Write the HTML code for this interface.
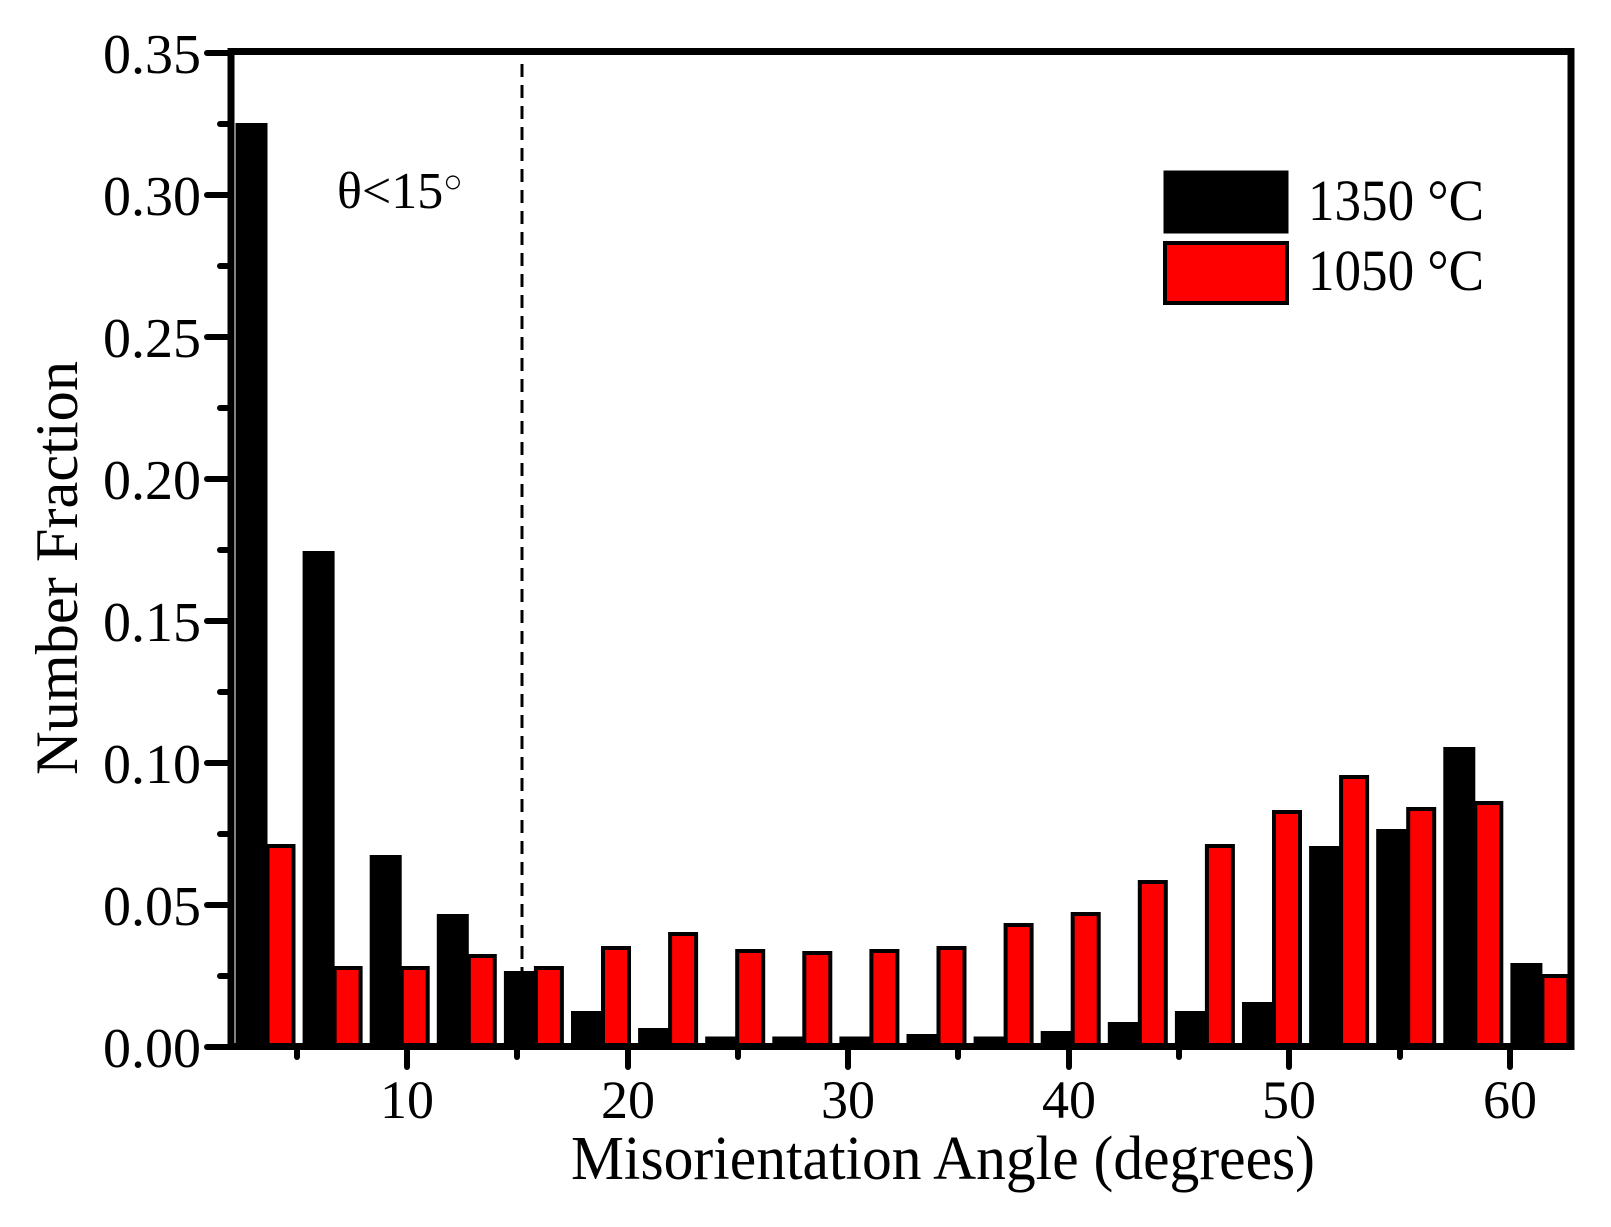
<!DOCTYPE html>
<html><head><meta charset="utf-8"><style>html,body{margin:0;padding:0;background:#fff}svg{display:block}</style></head>
<body>
<svg width="1611" height="1227" viewBox="0 0 1611 1227" xmlns="http://www.w3.org/2000/svg" font-family="'Liberation Serif', serif">
<g stroke="#000" stroke-width="4" fill="#000">
<rect x="237.5" y="125" width="28" height="922"/>
<rect x="304.6" y="553" width="28" height="494"/>
<rect x="371.7" y="857" width="28" height="190"/>
<rect x="438.8" y="916" width="28" height="131"/>
<rect x="505.9" y="973" width="28" height="74"/>
<rect x="573.0" y="1013" width="28" height="34"/>
<rect x="640.1" y="1030" width="28" height="17"/>
<rect x="707.2" y="1038.5" width="28" height="8.5"/>
<rect x="774.3" y="1038.5" width="28" height="8.5"/>
<rect x="841.4" y="1038.5" width="28" height="8.5"/>
<rect x="908.5" y="1036" width="28" height="11"/>
<rect x="975.6" y="1038.5" width="28" height="8.5"/>
<rect x="1042.7" y="1033" width="28" height="14"/>
<rect x="1109.8" y="1024" width="28" height="23"/>
<rect x="1176.9" y="1013" width="28" height="34"/>
<rect x="1244.0" y="1004" width="28" height="43"/>
<rect x="1311.1" y="848" width="28" height="199"/>
<rect x="1378.2" y="831" width="28" height="216"/>
<rect x="1445.3" y="749" width="28" height="298"/>
<rect x="1512.4" y="965" width="28" height="82"/>
</g>
<g stroke="#000" stroke-width="4" fill="#f00">
<rect x="267.5" y="846" width="26" height="201"/>
<rect x="334.6" y="968" width="26" height="79"/>
<rect x="401.7" y="968" width="26" height="79"/>
<rect x="468.8" y="956" width="26" height="91"/>
<rect x="535.9" y="968" width="26" height="79"/>
<rect x="603.0" y="948" width="26" height="99"/>
<rect x="670.1" y="934" width="26" height="113"/>
<rect x="737.2" y="951" width="26" height="96"/>
<rect x="804.3" y="953" width="26" height="94"/>
<rect x="871.4" y="951" width="26" height="96"/>
<rect x="938.5" y="948" width="26" height="99"/>
<rect x="1005.6" y="925" width="26" height="122"/>
<rect x="1072.7" y="914" width="26" height="133"/>
<rect x="1139.8" y="882" width="26" height="165"/>
<rect x="1206.9" y="846" width="26" height="201"/>
<rect x="1274.0" y="812" width="26" height="235"/>
<rect x="1341.1" y="777" width="26" height="270"/>
<rect x="1408.2" y="809" width="26" height="238"/>
<rect x="1475.3" y="803" width="26" height="244"/>
<rect x="1542.4" y="976" width="26" height="71"/>
</g>
<line x1="522" y1="64" x2="522" y2="1047" stroke="#000" stroke-width="3" stroke-dasharray="13,8"/>
<rect x="231" y="51.5" width="1340" height="995" fill="none" stroke="#000" stroke-width="7"/>
<g stroke="#000" stroke-width="6" stroke-linecap="round">
<line x1="207" y1="53" x2="231" y2="53"/><line x1="207" y1="195" x2="231" y2="195"/><line x1="207" y1="337" x2="231" y2="337"/><line x1="207" y1="479" x2="231" y2="479"/><line x1="207" y1="621" x2="231" y2="621"/><line x1="207" y1="763" x2="231" y2="763"/><line x1="207" y1="905" x2="231" y2="905"/><line x1="207" y1="1047" x2="231" y2="1047"/>
<line x1="220" y1="124" x2="231" y2="124"/><line x1="220" y1="266" x2="231" y2="266"/><line x1="220" y1="408" x2="231" y2="408"/><line x1="220" y1="550" x2="231" y2="550"/><line x1="220" y1="692" x2="231" y2="692"/><line x1="220" y1="834" x2="231" y2="834"/><line x1="220" y1="976" x2="231" y2="976"/>
<line x1="407" y1="1047" x2="407" y2="1067"/><line x1="628" y1="1047" x2="628" y2="1067"/><line x1="848" y1="1047" x2="848" y2="1067"/><line x1="1069" y1="1047" x2="1069" y2="1067"/><line x1="1289" y1="1047" x2="1289" y2="1067"/><line x1="1510" y1="1047" x2="1510" y2="1067"/>
<line x1="297" y1="1047" x2="297" y2="1057"/><line x1="517" y1="1047" x2="517" y2="1057"/><line x1="738" y1="1047" x2="738" y2="1057"/><line x1="958" y1="1047" x2="958" y2="1057"/><line x1="1179" y1="1047" x2="1179" y2="1057"/><line x1="1400" y1="1047" x2="1400" y2="1057"/>
</g>
<g font-size="56" text-anchor="end">
<text x="201" y="73" textLength="98" lengthAdjust="spacingAndGlyphs">0.35</text><text x="201" y="215" textLength="98" lengthAdjust="spacingAndGlyphs">0.30</text><text x="201" y="357" textLength="98" lengthAdjust="spacingAndGlyphs">0.25</text><text x="201" y="499" textLength="98" lengthAdjust="spacingAndGlyphs">0.20</text><text x="201" y="641" textLength="98" lengthAdjust="spacingAndGlyphs">0.15</text><text x="201" y="783" textLength="98" lengthAdjust="spacingAndGlyphs">0.10</text><text x="201" y="925" textLength="98" lengthAdjust="spacingAndGlyphs">0.05</text><text x="201" y="1067" textLength="98" lengthAdjust="spacingAndGlyphs">0.00</text>
</g>
<g font-size="54" text-anchor="middle">
<text x="407" y="1118">10</text><text x="628" y="1118">20</text><text x="848" y="1118">30</text><text x="1069" y="1118">40</text><text x="1289" y="1118">50</text><text x="1510" y="1118">60</text>
</g>
<text x="571" y="1179" font-size="62" textLength="744" lengthAdjust="spacingAndGlyphs">Misorientation Angle (degrees)</text>
<text transform="translate(77,775) rotate(-90)" font-size="60" textLength="414" lengthAdjust="spacingAndGlyphs">Number Fraction</text>
<text x="337" y="208" font-size="52">θ&lt;15<tspan font-size="32" dy="-16">○</tspan></text>
<rect x="1165" y="172" width="122" height="60" fill="#000" stroke="#000" stroke-width="3"/>
<rect x="1165" y="243" width="122" height="60" fill="#f00" stroke="#000" stroke-width="4"/>
<text x="1308" y="220" font-size="58" textLength="176" lengthAdjust="spacingAndGlyphs">1350 °C</text>
<text x="1308" y="290" font-size="58" textLength="176" lengthAdjust="spacingAndGlyphs">1050 °C</text>
</svg>
</body></html>
